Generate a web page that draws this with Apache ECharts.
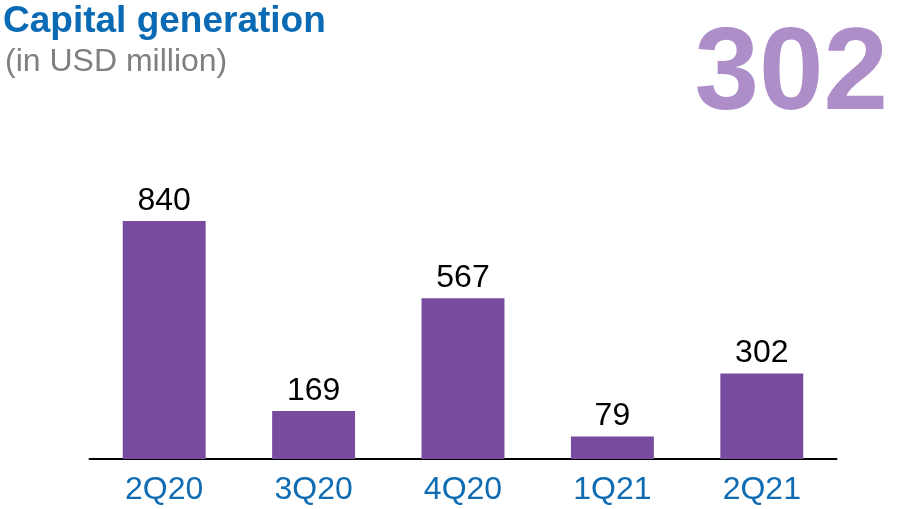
<!DOCTYPE html>
<html>
<head>
<meta charset="utf-8">
<script src="https://cdn.jsdelivr.net/npm/echarts@6/dist/echarts.min.js"></script>
<style>
html,body{margin:0;padding:0;background:#fff;}
#chart{width:909px;height:509px;}
</style>
</head>
<body>
<div id="chart"></div>
<script>
const categories = ['2Q20', '3Q20', '4Q20', '1Q21', '2Q21'];
const values = [840, 169, 567, 79, 302];
const titleText = 'Capital generation';
const subtitleText = '(in USD million)';
const highlightText = '302';

const chart = echarts.init(document.getElementById('chart'));
chart.setOption({
  animation: false,
  backgroundColor: '#ffffff',
  title: [
    {
      text: titleText,
      left: 3, top: 3, padding: 0,
      textStyle: { fontFamily: 'Liberation Sans, Arial, sans-serif', fontSize: 37, fontWeight: 'bold', color: '#0a6ab4' }
    },
    {
      text: subtitleText,
      left: 5, top: 46, padding: 0,
      textStyle: { fontFamily: 'Liberation Sans, Arial, sans-serif', fontSize: 32, fontWeight: 'normal', color: '#808080' }
    },
    {
      text: highlightText,
      right: 21, top: 19, padding: 0,
      textStyle: { fontFamily: 'Liberation Sans, Arial, sans-serif', fontSize: 116, fontWeight: 'bold', color: '#ae8ec9' }
    }
  ],
  grid: { left: 89.5, right: 72.5, top: 175.7, bottom: 50, containLabel: false },
  xAxis: {
    type: 'category',
    data: categories,
    axisLine: { show: true, lineStyle: { color: '#000000', width: 2 } },
    axisTick: { show: false },
    axisLabel: {
      margin: 15,
      fontFamily: 'Liberation Sans, Arial, sans-serif',
      fontSize: 32,
      color: '#0f6cb3'
    }
  },
  yAxis: {
    type: 'value',
    min: 0, max: 1000,
    show: false,
    splitLine: { show: false }
  },
  series: [{
    type: 'bar',
    data: values,
    barWidth: '55.5%',
    itemStyle: { color: '#774b9e' },
    label: {
      show: true,
      position: 'top',
      distance: 4,
      fontFamily: 'Liberation Sans, Arial, sans-serif',
      fontSize: 32,
      color: '#000000'
    }
  }]
});
</script>
</body>
</html>
